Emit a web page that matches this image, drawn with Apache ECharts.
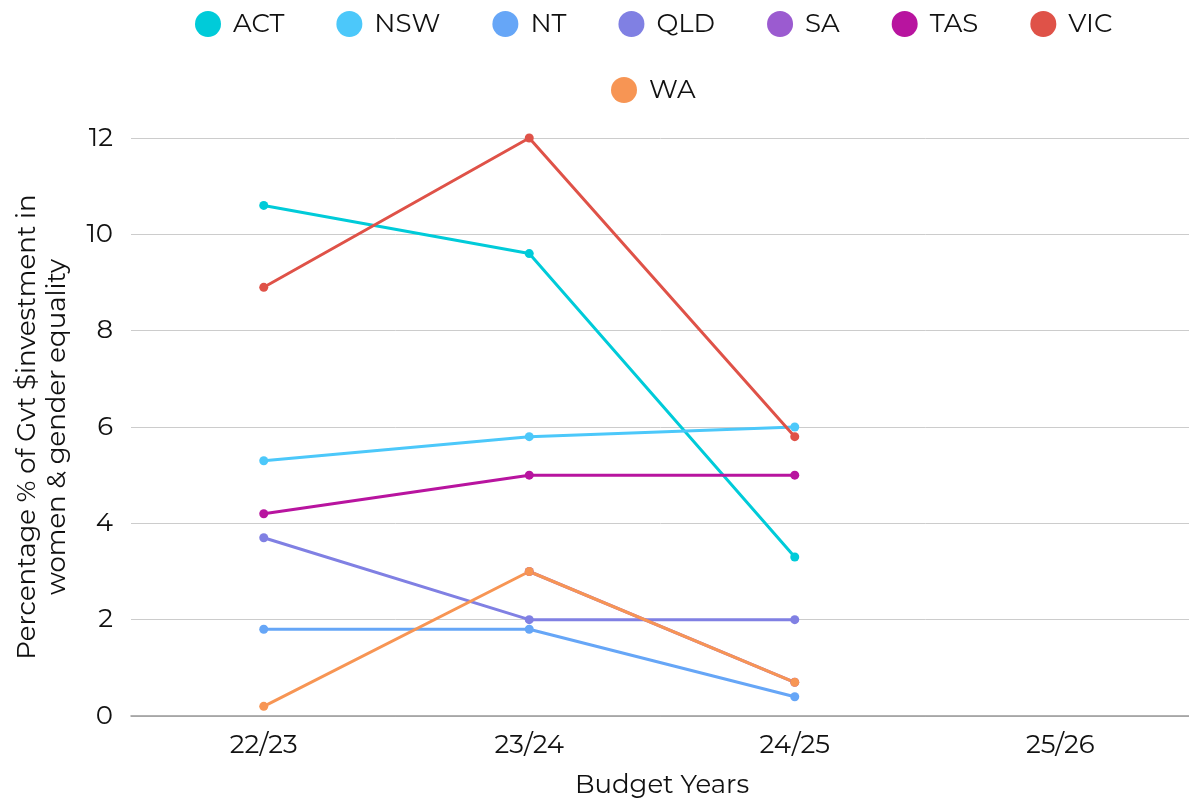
<!DOCTYPE html>
<html><head><meta charset="utf-8">
<script src="https://cdn.jsdelivr.net/npm/echarts@6/dist/echarts.min.js"></script>
<style>html,body{margin:0;padding:0;background:#fff}#c{width:1189px;height:801px}</style>
</head><body><div id="c"></div>
<script>
const categories = ['22/23','23/24','24/25','25/26'];
const ACT = [10.6, 9.6, 3.3, null];
const NSW = [5.3, 5.8, 6.0, null];
const NT  = [1.8, 1.8, 0.4, null];
const QLD = [3.7, 2.0, 2.0, null];
const SA  = [null, 3.0, 0.7, null];
const TAS = [4.2, 5.0, 5.0, null];
const VIC = [8.9, 12.0, 5.8, null];
const WA  = [0.2, 3.0, 0.7, null];
const seriesNames = ['ACT','NSW','NT','QLD','SA','TAS','VIC','WA'];
const seriesData = [ACT, NSW, NT, QLD, SA, TAS, VIC, WA];
const colors = ['#00cbd9','#4cc8fa','#66a6f7','#8080e3','#9b5bd0','#b8149f','#df5248','#f79554'];
const font = 'Montserrat, "Noto Sans", sans-serif';
const legendBase = {
  icon:'circle', itemWidth:26, itemHeight:26, itemGap:52,
  textStyle:{fontSize:26, color:'#111', fontFamily:font, padding:[0,0,0,7]}
};
const chart = echarts.init(document.getElementById('c'));
chart.setOption({
  animation:false,
  color: colors,
  textStyle:{fontFamily:font},
  legend:[
    Object.assign({top:6, left:190, data: seriesNames.slice(0,7)}, legendBase),
    Object.assign({top:72, left:606, data: seriesNames.slice(7)}, legendBase)
  ],
  grid:{left:131, right:-4, top:138, bottom:85, containLabel:false, outerBoundsMode:'none'},
  xAxis:{
    type:'category', data:categories, boundaryGap:true,
    name:'Budget Years', nameLocation:'middle', nameGap:56,
    nameTextStyle:{fontSize:26, color:'#111', fontFamily:font},
    axisLine:{lineStyle:{color:'#999', width:1.5}},
    axisTick:{show:false},
    axisLabel:{fontSize:26, color:'#111', margin:16, fontFamily:font}
  },
  yAxis:{
    type:'value', min:0, max:12, interval:2,
    name:'Percentage % of Gvt $investment in\nwomen & gender equality',
    nameLocation:'middle', nameGap:59, nameRotate:90,
    nameTextStyle:{fontSize:26, color:'#111', lineHeight:30, fontFamily:font},
    axisLine:{show:false}, axisTick:{show:false},
    axisLabel:{fontSize:26, color:'#111', margin:18, fontFamily:font},
    splitLine:{lineStyle:{color:'#cccccc', width:1}}
  },
  series: seriesNames.map((n,i)=>({
    name:n, type:'line', data:seriesData[i],
    symbol:'circle', symbolSize:9, showSymbol:true,
    lineStyle:{width:3}, connectNulls:false
  }))
});
</script></body></html>
